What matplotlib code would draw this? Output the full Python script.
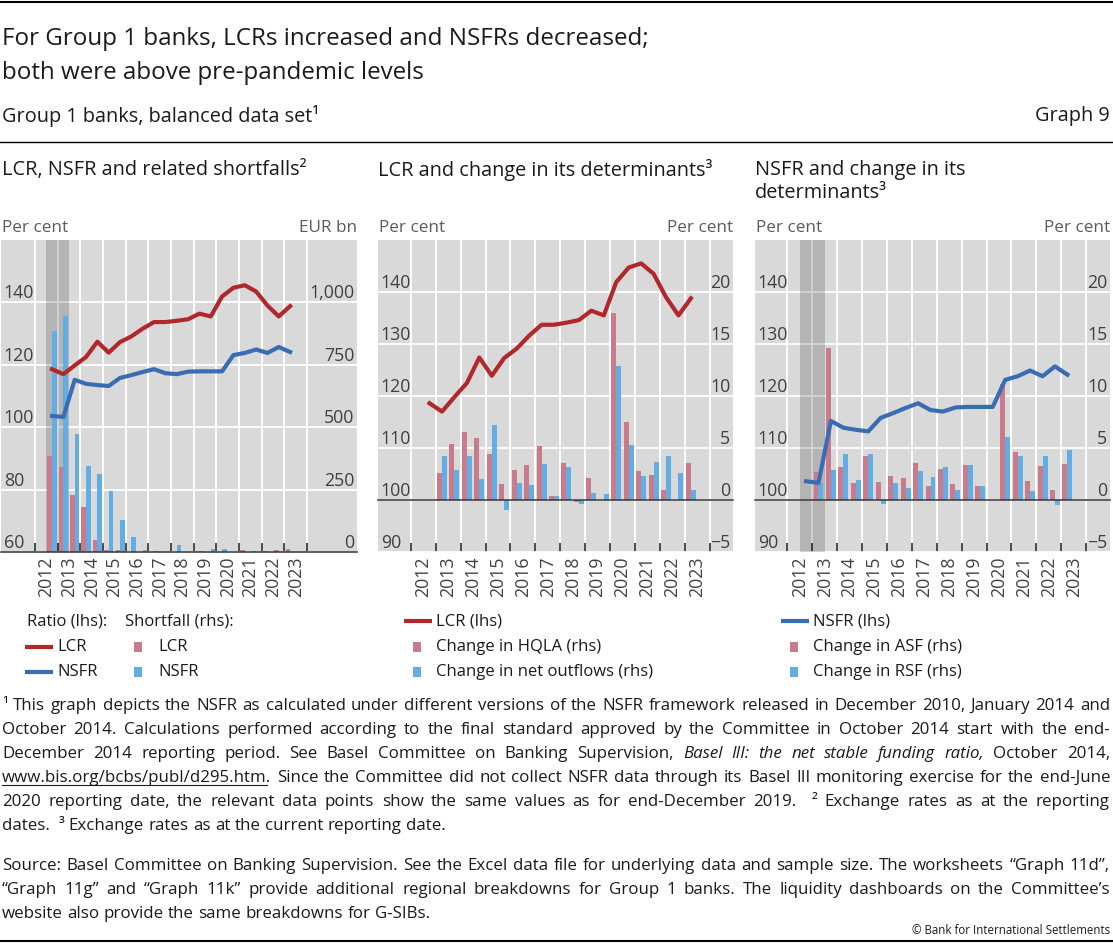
#!/usr/bin/env python3

"""Graph 9: LCR, NSFR and the change in their determinants for Group 1 banks."""

import numpy as np
import matplotlib
matplotlib.use("Agg")
from matplotlib import pyplot as plt
from matplotlib.patches import Rectangle

plt.rcParams['font.family'] = ['Open Sans', 'DejaVu Sans']

# half-year reporting dates, end-Dec 2012 to end-June 2023
periods = ["2012H2", "2013H1", "2013H2", "2014H1", "2014H2", "2015H1", "2015H2",
           "2016H1", "2016H2", "2017H1", "2017H2", "2018H1", "2018H2", "2019H1",
           "2019H2", "2020H1", "2020H2", "2021H1", "2021H2", "2022H1", "2022H2",
           "2023H1"]
lcr = [118.6, 117.0, 119.8, 122.5, 127.4, 123.9, 127.3, 129.1, 131.6, 133.7, 133.7,
       134.1, 134.6, 136.4, 135.5, 141.9, 144.7, 145.5, 143.5, 139.0, 135.5, 138.8]
nsfr = [103.6, 103.3, 115.2, 113.9, 113.5, 113.2, 115.8, 116.7, 117.7, 118.6, 117.3,
        117.0, 117.8, 117.9, 117.9, 117.9, 123.1, 123.8, 124.9, 123.8, 125.7, 124.1]
lcr_shortfall = [384, 341, 230, 180, 48, 7, 7, 0, 0, 0, 0,
                 0, 0, 0, 0, 0, 0, 8, 4, 5, 8, 13]
nsfr_shortfall = [885, 947, 473, 345, 311, 243, 130, 60, 8, 4, 0,
                  27, 0, 5, 12, 12, 0, 0, 0, 0, 0, 0]

# changes are reported from end-June 2013 onwards
change_periods = periods[1:]
hqla_change = [2.6, 5.4, 6.5, 6.0, 4.4, 1.5, 2.9, 3.4, 5.2, 0.4, 3.6,
               -0.2, 2.1, 0.0, 18.0, 7.5, 2.8, 2.4, 1.0, 0.0, 3.6]
outflows_change = [4.2, 2.9, 4.2, 2.0, 7.2, -1.0, 1.6, 1.4, 3.5, 0.4, 3.2,
                   -0.4, 0.7, 0.6, 12.9, 5.3, 2.3, 3.7, 4.2, 2.6, 1.0]
asf_change = [2.7, 14.6, 3.2, 1.6, 4.2, 1.7, 2.3, 2.1, 3.6, 1.3, 3.0,
              1.5, 3.4, 1.3, np.nan, 11.2, 4.6, 1.8, 3.3, 1.0, 3.5]
rsf_change = [1.6, 2.9, 4.4, 1.9, 4.4, -0.4, 1.6, 1.2, 2.8, 2.2, 3.2,
              1.0, 3.4, 1.3, np.nan, 6.1, 4.2, 0.9, 4.2, -0.5, 4.8]

# periods computed under earlier versions of the NSFR framework
shaded_periods = ["2012H2", "2013H1"]
years = list(range(2012, 2024))

RED = '#b0282b'
BLUE = '#3a6cb4'
PINK = '#c97b8b'
LBLUE = '#62aee4'
BG = '#d9d9d9'
TEXTC = '#1a1a1a'
TICKC = '#404040'
UNITC = '#5a5a5a'

W, H = 1113, 943


def period_pos(p):
    year, half = p.split("H")
    return int(year) + (0.25 if half == "1" else 0.75)


fig = plt.figure(figsize=(W / 100, H / 100), dpi=100)
ov = fig.add_axes([0, 0, 1, 1])
ov.set_xlim(0, W)
ov.set_ylim(H, 0)
ov.axis('off')


def panel(x0, x1, xlim, rlim, rticks, rlabels, llim, lticks, llabels):
    ax = fig.add_axes([x0 / W, 1 - 552 / H, (x1 - x0) / W, (552 - 240) / H])
    ax2 = ax.twinx()
    ax.set_facecolor(BG)
    for a in (ax, ax2):
        for s in a.spines.values():
            s.set_visible(False)
    ax.set_xlim(xlim)
    ax.set_ylim(rlim)
    ax2.set_ylim(llim)
    ax.set_axisbelow(True)
    ax.yaxis.tick_right()
    ax2.yaxis.tick_left()
    ax.set_yticks(rticks, rlabels)
    ax2.set_yticks(lticks, llabels)
    for a, ha in ((ax, 'right'), (ax2, 'left')):
        a.tick_params(axis='y', length=0, pad=-2, labelsize=12.8, labelcolor=TICKC)
        for t in a.get_yticklabels():
            t.set_ha(ha)
            t.set_va('bottom')
    ax.set_xticks(np.arange(2012, 2025), [])
    ax.set_xticks(np.array(years) + 0.5, [str(y) for y in years], minor=True, rotation=90)
    ax.tick_params(axis='x', which='major', direction='in', length=6.5, width=1.3,
                   color='#3d3d3d')
    ax.tick_params(axis='x', which='minor', length=0, pad=3, labelsize=12.8,
                   labelcolor=TICKC)
    ax.grid(True, which='major', color='white', lw=1.3)
    ax.axhline(0, color='#333333', lw=1.1, zorder=2.5, clip_on=False)
    ov.text(x0 + 1, 228, "Per cent", fontsize=12.3, color=UNITC, va='center')
    return ax, ax2


def shade(ax):
    sp = [period_pos(p) for p in shaded_periods]
    ax.axvspan(min(sp) - 0.25, max(sp) + 0.25, color='black', alpha=0.17, lw=0, zorder=1)


xs = np.array([period_pos(p) for p in periods])
xc = np.array([period_pos(p) for p in change_periods])

# Panel 1: LCR, NSFR and related shortfalls
ax, ax2 = panel(1, 357, (2010.5, 2026.2), (0, 1250), [0, 250, 500, 750, 1000],
                ["0", "250", "500", "750", "1,000"], (60, 160), [60, 80, 100, 120, 140],
                ["60", "80", "100", "120", "140"])
shade(ax)
ax.bar(xs - 0.1, lcr_shortfall, 0.2, color=PINK, zorder=2)
ax.bar(xs + 0.1, nsfr_shortfall, 0.2, color=LBLUE, zorder=2)
ax2.plot(xs, lcr, color=RED, lw=3)
ax2.plot(xs, nsfr, color=BLUE, lw=3)
ov.text(357, 228, "EUR bn", fontsize=12.3, color=UNITC, va='center', ha='right')

rlabels = ["\u22125", "0", "5", "10", "15", "20"]
llabels = ["90", "100", "110", "120", "130", "140"]

# Panel 2: LCR and change in its determinants
ax, ax2 = panel(378, 733, (2010.68, 2024.94), (-5, 25), [-5, 0, 5, 10, 15, 20], rlabels,
                (90, 150), [90, 100, 110, 120, 130, 140], llabels)
ax.bar(xc - 0.1, hqla_change, 0.2, color=PINK, zorder=2)
ax.bar(xc + 0.1, outflows_change, 0.2, color=LBLUE, zorder=2)
ax2.plot(xs, lcr, color=RED, lw=3)
ov.text(733, 228, "Per cent", fontsize=12.3, color=UNITC, va='center', ha='right')

# Panel 3: NSFR and change in its determinants
ax, ax2 = panel(755, 1110, (2010.70, 2024.96), (-5, 25), [-5, 0, 5, 10, 15, 20], rlabels,
                (90, 150), [90, 100, 110, 120, 130, 140], llabels)
shade(ax)
ax.bar(xc - 0.1, asf_change, 0.2, color=PINK, zorder=2)
ax.bar(xc + 0.1, rsf_change, 0.2, color=LBLUE, zorder=2)
ax2.plot(xs, nsfr, color=BLUE, lw=3)
ov.text(1110, 228, "Per cent", fontsize=12.3, color=UNITC, va='center', ha='right')

# headings
ov.plot([0, W], [1.5, 1.5], color='black', lw=1.5)
ov.text(2, 39, "For Group 1 banks, LCRs increased and NSFRs decreased;", fontsize=17.4,
        color=TEXTC, va='center')
ov.text(2, 73, "both were above pre-pandemic levels", fontsize=17.4, color=TEXTC,
        va='center')
ov.text(2, 116, "Group 1 banks, balanced data set\u00b9", fontsize=14.3, color=TEXTC,
        va='center')
ov.text(1110, 116, "Graph 9", fontsize=14.3, color=TEXTC, va='center', ha='right')
ov.plot([0, W], [142, 142], color='black', lw=1)
PFS = 14.3
ov.text(2, 170, "LCR, NSFR and related shortfalls\u00b2", fontsize=PFS, color=TEXTC,
        va='center')
ov.text(378, 170, "LCR and change in its determinants\u00b3", fontsize=PFS, color=TEXTC,
        va='center')
ov.text(755, 170, "NSFR and change in its", fontsize=PFS, color=TEXTC, va='center')
ov.text(755, 193, "determinants\u00b3", fontsize=PFS, color=TEXTC, va='center')


# legends
def key_line(x, y, color):
    ov.plot([x, x + 28], [y, y], color=color, lw=3, solid_capstyle='butt')


def key_box(x, y, color):
    ov.add_patch(Rectangle((x, y - 5), 8, 10, color=color, lw=0))


LFS = 12
ov.text(27, 621, "Ratio (lhs):", fontsize=LFS, color=TEXTC, va='center')
ov.text(125, 621, "Shortfall (rhs):", fontsize=LFS, color=TEXTC, va='center')
for y, name, lc, bc in ((647, "LCR", RED, PINK), (672, "NSFR", BLUE, LBLUE)):
    key_line(25, y, lc)
    ov.text(57, y, name, fontsize=LFS, color=TEXTC, va='center')
    key_box(134, y, bc)
    ov.text(158, y, name, fontsize=LFS, color=TEXTC, va='center')

key_line(404, 621, RED)
ov.text(436, 621, "LCR (lhs)", fontsize=LFS, color=TEXTC, va='center')
key_box(413, 647, PINK)
ov.text(436, 647, "Change in HQLA (rhs)", fontsize=LFS, color=TEXTC, va='center')
key_box(413, 672, LBLUE)
ov.text(436, 672, "Change in net outflows (rhs)", fontsize=LFS, color=TEXTC, va='center')

key_line(781, 621, BLUE)
ov.text(813, 621, "NSFR (lhs)", fontsize=LFS, color=TEXTC, va='center')
key_box(790, 647, PINK)
ov.text(813, 647, "Change in ASF (rhs)", fontsize=LFS, color=TEXTC, va='center')
key_box(790, 672, LBLUE)
ov.text(813, 672, "Change in RSF (rhs)", fontsize=LFS, color=TEXTC, va='center')

# footnotes, justified between x=2 and x=1110
footnotes = [
    "\u00b9 This graph depicts the NSFR as calculated under different versions of the NSFR framework released in December 2010, January 2014 and",
    "October 2014. Calculations performed according to the final standard approved by the Committee in October 2014 start with the end-",
    "December 2014 reporting period. See Basel Committee on Banking Supervision, ~Basel ~III: ~the ~net ~stable ~funding ~ratio, October 2014,",
    "_www.bis.org/bcbs/publ/d295.htm|. Since the Committee did not collect NSFR data through its Basel III monitoring exercise for the end-June",
    "2020 reporting date, the relevant data points show the same values as for end-December 2019.  \u00b2 Exchange rates as at the reporting",
    "dates.  \u00b3 Exchange rates as at the current reporting date.",
]
source = [
    "Source: Basel Committee on Banking Supervision. See the Excel data file for underlying data and sample size. The worksheets \u201cGraph 11d\u201d,",
    "\u201cGraph 11g\u201d and \u201cGraph 11k\u201d provide additional regional breakdowns for Group 1 banks. The liquidity dashboards on the Committee\u2019s",
    "website also provide the same breakdowns for G-SIBs.",
]

renderer = fig.canvas.get_renderer()


def measure(s, fs, style='normal'):
    if not s:
        return 0.0
    t = ov.text(0, 0, s, fontsize=fs, style=style)
    w = t.get_window_extent(renderer).width
    t.remove()
    return w


def paragraph(lines, y0, step, fs, x0=2, x1=1110):
    space = measure("a a", fs) - measure("aa", fs)
    for i, line in enumerate(lines):
        y = y0 + i * step
        items = []
        for w in line.split(' '):
            style = 'normal'
            uw = 0
            if w.startswith('~'):
                style = 'italic'
                w = w[1:]
            if w.startswith('_'):
                head, tail = w[1:].split('|')
                uw = measure(head, fs)
                w = head + tail
            t = ov.text(0, y, w, fontsize=fs, style=style, color=TEXTC, va='baseline')
            items.append((t, measure(w, fs, style), uw))
        if i == len(lines) - 1:
            gap = space
        else:
            gap = (x1 - x0 - sum(it[1] for it in items)) / (len(items) - 1)
        x = x0
        for t, w, uw in items:
            t.set_x(x)
            if uw:
                ov.plot([x, x + uw], [y + 2.5, y + 2.5], color=TEXTC, lw=0.8)
            x += w + gap


FFS = 12.2
paragraph(footnotes, 710, 24, FFS)
paragraph(source, 870, 24, FFS)

ov.text(1110, 931, "\u00a9 Bank for International Settlements", fontsize=8.3, color=TEXTC,
        va='center', ha='right')
ov.plot([0, W], [940.5, 940.5], color='black', lw=1.5)

fig.savefig("out.png", dpi=100)
